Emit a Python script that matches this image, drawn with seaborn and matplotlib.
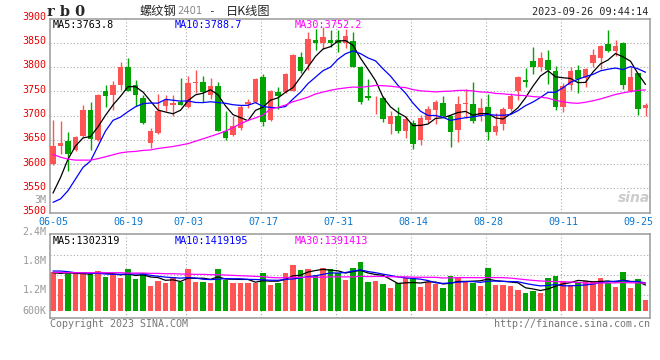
import numpy as np
import pandas as pd
import seaborn as sns
import matplotlib.pyplot as plt
from matplotlib import transforms

# trading sessions 2023-06-05 .. 2023-09-26 (exchange shut 06-22 / 06-23)
days = pd.bdate_range('2023-06-05', '2023-09-26')
days = days[~days.isin(pd.to_datetime(['2023-06-22', '2023-06-23']))]

opens = [3600, 3638, 3647, 3628, 3657, 3712, 3649, 3751, 3743, 3763,
         3801, 3762, 3737, 3644, 3663, 3719, 3722, 3727, 3717, 3766,
         3770, 3742, 3760, 3669, 3659, 3675, 3724, 3728, 3780, 3690,
         3748, 3748, 3751, 3821, 3806, 3855, 3849, 3855, 3855, 3849,
         3853, 3801, 3741, 3731, 3736, 3682, 3700, 3669, 3685, 3649,
         3690, 3712, 3726, 3699, 3670, 3723, 3724, 3699, 3718, 3667,
         3682, 3714, 3751, 3774, 3812, 3799, 3815, 3792, 3717, 3762,
         3794, 3777, 3809, 3819, 3847, 3834, 3850, 3751, 3787, 3716]
highs = [3690, 3688, 3666, 3657, 3722, 3728, 3745, 3763, 3772, 3811,
         3818, 3774, 3743, 3675, 3745, 3743, 3743, 3778, 3782, 3794,
         3782, 3778, 3770, 3709, 3700, 3722, 3733, 3778, 3785, 3752,
         3758, 3787, 3826, 3830, 3872, 3878, 3883, 3876, 3876, 3878,
         3872, 3803, 3776, 3741, 3740, 3709, 3717, 3699, 3690, 3701,
         3719, 3731, 3741, 3702, 3740, 3755, 3769, 3737, 3744, 3705,
         3717, 3746, 3782, 3797, 3842, 3830, 3835, 3802, 3767, 3801,
         3804, 3797, 3837, 3845, 3876, 3855, 3851, 3799, 3787, 3726]
lows = [3598, 3621, 3586, 3627, 3656, 3628, 3647, 3717, 3712, 3753,
        3750, 3719, 3682, 3632, 3661, 3709, 3700, 3721, 3716, 3746,
        3728, 3735, 3668, 3649, 3658, 3671, 3715, 3726, 3679, 3688,
        3714, 3746, 3750, 3787, 3794, 3836, 3838, 3842, 3831, 3840,
        3799, 3724, 3731, 3704, 3686, 3662, 3664, 3653, 3630, 3639,
        3685, 3682, 3697, 3635, 3646, 3695, 3685, 3688, 3650, 3660,
        3671, 3709, 3731, 3758, 3785, 3792, 3765, 3711, 3707, 3753,
        3746, 3758, 3799, 3795, 3830, 3823, 3755, 3748, 3702, 3700]
closes = [3638, 3643, 3621, 3655, 3712, 3652, 3743, 3740, 3762, 3801,
          3751, 3743, 3685, 3668, 3709, 3731, 3725, 3721, 3767, 3769,
          3748, 3760, 3669, 3653, 3679, 3717, 3728, 3776, 3686, 3751,
          3741, 3785, 3825, 3792, 3857, 3850, 3861, 3850, 3849, 3863,
          3801, 3728, 3736, 3732, 3693, 3700, 3669, 3692, 3642, 3695,
          3714, 3727, 3699, 3667, 3724, 3725, 3688, 3716, 3667, 3679,
          3714, 3741, 3779, 3770, 3799, 3819, 3794, 3717, 3760, 3792,
          3776, 3796, 3825, 3843, 3832, 3843, 3762, 3780, 3714, 3721]
volumes = [1983000, 1593000, 1932000, 1932000, 1983000, 1865000, 2017000, 1729000, 1814000, 1678000,
           2119000, 1610000, 1898000, 1271000, 1526000, 1424000, 1729000, 1475000, 2119000, 1475000,
           1475000, 1424000, 2119000, 1559000, 1424000, 1424000, 1424000, 1424000, 1932000, 1305000,
           1424000, 1898000, 2322000, 2068000, 2119000, 1814000, 2187000, 2119000, 1898000, 1559000,
           2187000, 2475000, 1475000, 1509000, 1356000, 1153000, 1424000, 1644000, 1593000, 1220000,
           1475000, 1356000, 1153000, 1763000, 1695000, 1475000, 1424000, 1254000, 2187000, 1305000,
           1305000, 1254000, 1051000, 915000, 1000000, 915000, 1644000, 1763000, 1509000, 1305000,
           1475000, 1509000, 1509000, 1644000, 1424000, 1220000, 1983000, 1170000, 1610000, 542000]

# moving averages before the window fills use earlier sessions ->
ma5_head = [3540, 3572, 3610, 3637]
ma10_head = [3521, 3528, 3545, 3569, 3593, 3606, 3637, 3668, 3690]
ma30_head = [3620, 3614, 3610, 3608, 3608, 3608, 3611, 3615, 3619, 3623,
             3625, 3626, 3628, 3629, 3632, 3634, 3636, 3639, 3642, 3647,
             3652, 3657, 3662, 3668, 3675, 3683, 3690, 3695, 3701]
vma5_head = [1932000, 1898000, 1932000, 1898000]
vma10_head = [2017000, 2017000, 1983000, 1932000, 1932000, 1898000, 1898000, 1865000, 1848000]
vma30_head = [1949000, 1949000, 1932000, 1932000, 1932000, 1932000, 1932000, 1932000, 1932000, 1932000,
              1915000, 1915000, 1915000, 1898000, 1898000, 1881000, 1881000, 1865000, 1865000, 1848000,
              1848000, 1831000, 1831000, 1814000, 1797000, 1780000, 1763000, 1746000, 1729000]

tick_dates = ['06-05', '06-19', '07-03', '07-17', '07-31', '08-14', '08-28', '09-11', '09-25']
price_ticks = [3500, 3550, 3600, 3650, 3700, 3750, 3800, 3850, 3900]
ma_texts = ['MA5:3763.8', 'MA10:3788.7', 'MA30:3752.2']
vol_ma_texts = ['MA5:1302319', 'MA10:1419195', 'MA30:1391413']
vol_labels = ['3M', '2.4M', '1.8M', '1.2M', '600K']

RED = '#ff5454'
GREEN = '#00a300'
GRID = '#aaaaaa'
FRAME = '#9a9a9a'
MA_COLORS = ['black', '#0000ff', '#ff00ff']


def moving(s, n, head):
    m = s.rolling(n).mean()
    m.iloc[:n - 1] = head
    return m


df = pd.DataFrame({'open': opens, 'high': highs, 'low': lows, 'close': closes, 'volume': volumes})
df['x'] = np.arange(len(df))
df['dir'] = np.where(df['close'] >= df['open'], 'up', 'down')
df['ma5'] = moving(df['close'], 5, ma5_head)
df['ma10'] = moving(df['close'], 10, ma10_head)
df['ma30'] = moving(df['close'], 30, ma30_head)
df['vma5'] = moving(df['volume'], 5, vma5_head)
df['vma10'] = moving(df['volume'], 10, vma10_head)
df['vma30'] = moving(df['volume'], 30, vma30_head)

labels = days.strftime('%m-%d')
tick_pos = [int(np.where(labels == d)[0][0]) for d in tick_dates]

sns.set_style('white')
plt.rcParams['font.family'] = ['DejaVu Sans Mono']
plt.rcParams['font.size'] = 7

W, H = 660, 360
fig = plt.figure(figsize=(W / 100, H / 100), dpi=100)


def box(x0, y0, x1, y1):
    return [x0 / W, 1 - y1 / H, (x1 - x0) / W, (y1 - y0) / H]


ax = fig.add_axes(box(50, 18.5, 650, 212.5))
axv = fig.add_axes(box(50, 234.3, 650, 318))

# candles
colors = np.where(df['dir'] == 'up', RED, GREEN)
ax.vlines(df['x'], df['low'], df['high'], colors=colors, lw=1.0, zorder=2)
body = (df['close'] - df['open']).abs().clip(lower=1.6)
ax.bar(df['x'], body, bottom=df[['open', 'close']].min(axis=1), width=0.72,
       color=colors, lw=0, zorder=3)
for col, c in zip(['ma5', 'ma10', 'ma30'], MA_COLORS):
    sns.lineplot(data=df, x='x', y=col, color=c, lw=0.9, ax=ax, zorder=4)

ax.set_xlim(-0.4, 79.6)
ax.set_ylim(3500, 3900)
for v in price_ticks[1:-1]:
    ax.axhline(v, color=GRID, lw=0.8, ls=(0, (1, 2)), zorder=1)
for p in tick_pos[1:-1]:
    ax.axvline(p - 0.3, color=GRID, lw=0.8, ls=(0, (1, 2)), zorder=1)
ax.set_yticks(price_ticks)
ax.set_yticklabels([str(v) for v in price_ticks], color='#e80000', fontsize=7.2)
ax.set_xticks(tick_pos)
ax.set_xticklabels(tick_dates, color='#0a78d2', fontsize=7.2)
ax.tick_params(length=0, pad=3)
off = transforms.ScaledTranslation(0, 2.5 / 100, fig.dpi_scale_trans)
for lbl in ax.get_yticklabels():
    lbl.set_transform(lbl.get_transform() + off)
ax.set_xlabel('')
ax.set_ylabel('')
for sp in ax.spines.values():
    sp.set_color(FRAME)
    sp.set_linewidth(1.1)
for xf, t, c in zip([0.005, 0.208, 0.408], ma_texts, MA_COLORS):
    ax.text(xf, 0.993, t, transform=ax.transAxes, va='top', ha='left', color=c, fontsize=7.3)

# volume
sns.barplot(data=df, x='x', y='volume', hue='dir', palette={'up': RED, 'down': GREEN},
            width=0.72, saturation=1, legend=False, linewidth=0, ax=axv)
for col, c in zip(['vma5', 'vma10', 'vma30'], MA_COLORS):
    sns.lineplot(data=df, x='x', y=col, color=c, lw=0.9, ax=axv, zorder=4)
axv.set_xlim(-0.4, 79.6)
axv.set_ylim(-371000, 3885000)
lo, hi = axv.get_ylim()
for f in [0.271, 0.514, 0.753]:
    axv.axhline(lo + f * (hi - lo), color=GRID, lw=0.8, ls=(0, (1, 2)), zorder=0)
for p in tick_pos[1:-1]:
    axv.axvline(p - 0.3, color=GRID, lw=0.8, ls=(0, (1, 2)), zorder=0)
axv.set_xticks([])
axv.set_yticks([])
axv.set_xlabel('')
axv.set_ylabel('')
for sp in axv.spines.values():
    sp.set_color(FRAME)
    sp.set_linewidth(1.1)
for xf, t, c in zip([0.005, 0.208, 0.408], vol_ma_texts, MA_COLORS):
    axv.text(xf, 0.985, t, transform=axv.transAxes, va='top', ha='left', color=c, fontsize=7.3)

for t, y in zip(vol_labels, [200, 231.7, 261, 290, 310.7]):
    fig.text(46.5 / W, 1 - y / H, t, ha='right', va='center', color='#999999', fontsize=7.2)

# header / footer
fig.text(47 / W, 1 - 11.5 / H, 'r b 0', family='DejaVu Serif', weight='bold',
         fontsize=10.5, va='center', ha='left')
fig.text(140 / W, 1 - 11 / H, '螺纹钢', family=['Noto Sans CJK SC', 'DejaVu Sans'],
         fontsize=8.8, weight='medium', va='center', ha='left')
fig.text(177 / W, 1 - 11.5 / H, '2401', family='DejaVu Sans', color='#888888',
         fontsize=7.2, va='center', ha='left')
fig.text(208 / W, 1 - 11 / H, '-', fontsize=8, va='center', ha='left')
fig.text(226 / W, 1 - 11 / H, '日K线图', family=['Noto Sans CJK SC', 'DejaVu Sans'],
         fontsize=8.8, weight='medium', va='center', ha='left')
fig.text(648 / W, 1 - 12 / H, '2023-09-26 09:44:14', fontsize=7.3, va='center', ha='right')
fig.text(50 / W, 1 - 324 / H, 'Copyright 2023 SINA.COM', color='#777777', fontsize=7.2,
         va='center', ha='left')
fig.text(650 / W, 1 - 324 / H, 'http://finance.sina.com.cn', color='#777777', fontsize=7.2,
         va='center', ha='right')
fig.text(634 / W, 1 - 198 / H, 'sina', family='DejaVu Sans', style='italic', weight='bold',
         color='#cccccc', fontsize=10, va='center', ha='center')

fig.savefig('out.png', dpi=100)
